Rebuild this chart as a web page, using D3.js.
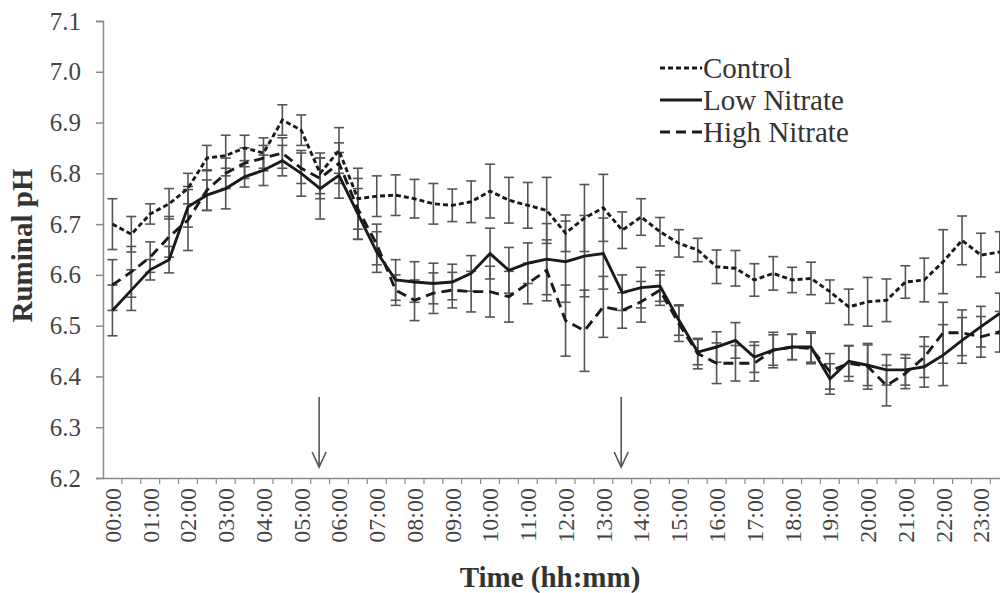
<!DOCTYPE html>
<html>
<head>
<meta charset="utf-8">
<script src="https://cdn.jsdelivr.net/npm/d3@7"></script>
<style>
  body { margin: 0; background: #fff; }
  svg { display: block; font-family: "Liberation Serif", "Times New Roman", serif; }
</style>
</head>
<body>
<div id="app"></div>
<script>
// half-hourly time points
const times = d3.range(48).map(i => `${String(Math.floor(i / 2)).padStart(2, '0')}:${i % 2 ? '30' : '00'}`);
const hourLabels = times.filter((d, i) => i % 2 === 0);
const yTicks = [6.2, 6.3, 6.4, 6.5, 6.6, 6.7, 6.8, 6.9, 7.0, 7.1];
const feedingTimes = ['05:30', '13:30'];

const control = [6.70, 6.68, 6.72, 6.74, 6.77, 6.83, 6.835, 6.85, 6.84, 6.905, 6.885, 6.80,
  6.845, 6.75, 6.755, 6.757, 6.75, 6.74, 6.737, 6.744, 6.765, 6.747, 6.737, 6.727,
  6.682, 6.712, 6.732, 6.688, 6.714, 6.685, 6.662, 6.649, 6.616, 6.613, 6.59, 6.603,
  6.59, 6.593, 6.567, 6.537, 6.547, 6.55, 6.586, 6.59, 6.626, 6.668, 6.639, 6.645];
const controlErr = [0.05, 0.035, 0.02, 0.03, 0.03, 0.025, 0.04, 0.025, 0.03, 0.03, 0.03, 0.04,
  0.045, 0.06, 0.04, 0.04, 0.038, 0.04, 0.032, 0.041, 0.053, 0.045, 0.045, 0.065,
  0.036, 0.066, 0.066, 0.036, 0.036, 0.028, 0.027, 0.023, 0.033, 0.035, 0.032, 0.033,
  0.025, 0.032, 0.023, 0.035, 0.048, 0.042, 0.032, 0.043, 0.063, 0.048, 0.043, 0.04];

const lowNitrate = [6.53, 6.57, 6.61, 6.63, 6.734, 6.757, 6.77, 6.793, 6.806, 6.825, 6.80, 6.77,
  6.796, 6.72, 6.645, 6.59, 6.586, 6.583, 6.586, 6.603, 6.642, 6.609, 6.623, 6.631,
  6.626, 6.637, 6.642, 6.565, 6.575, 6.578, 6.511, 6.448, 6.458, 6.471, 6.438, 6.452,
  6.458, 6.458, 6.395, 6.43, 6.422, 6.413, 6.413, 6.419, 6.442, 6.471, 6.498, 6.524];
const lowNitrateErr = [0.05, 0.04, 0.02, 0.026, 0.04, 0.03, 0.04, 0.02, 0.03, 0.03, 0.045, 0.06,
  0.045, 0.05, 0.04, 0.04, 0.04, 0.04, 0.035, 0.035, 0.05, 0.045, 0.04, 0.07,
  0.08, 0.08, 0.07, 0.035, 0.04, 0.03, 0.03, 0.025, 0.03, 0.035, 0.03, 0.03,
  0.025, 0.03, 0.03, 0.03, 0.04, 0.03, 0.03, 0.04, 0.06, 0.045, 0.04, 0.04];

const highNitrate = [6.58, 6.606, 6.635, 6.675, 6.708, 6.767, 6.80, 6.82, 6.83, 6.84, 6.81, 6.79,
  6.82, 6.73, 6.66, 6.57, 6.55, 6.564, 6.57, 6.567, 6.567, 6.557, 6.583, 6.609,
  6.51, 6.49, 6.537, 6.53, 6.547, 6.57, 6.504, 6.445, 6.426, 6.426, 6.426, 6.452,
  6.458, 6.455, 6.41, 6.426, 6.42, 6.382, 6.406, 6.438, 6.486, 6.486, 6.478, 6.488];
const highNitrateErr = [0.05, 0.05, 0.03, 0.04, 0.06, 0.04, 0.03, 0.03, 0.025, 0.03, 0.03, 0.04,
  0.04, 0.06, 0.04, 0.03, 0.04, 0.04, 0.035, 0.04, 0.05, 0.05, 0.04, 0.06,
  0.07, 0.08, 0.06, 0.035, 0.04, 0.03, 0.035, 0.03, 0.04, 0.035, 0.035, 0.035,
  0.025, 0.03, 0.035, 0.035, 0.045, 0.04, 0.03, 0.04, 0.06, 0.045, 0.04, 0.04];

const series = [
  { name: 'Control', values: control, err: controlErr, dash: '5,3' },
  { name: 'Low Nitrate', values: lowNitrate, err: lowNitrateErr, dash: null },
  { name: 'High Nitrate', values: highNitrate, err: highNitrateErr, dash: '10,6' },
];

const width = 1000;
const height = 593;
const plotLeft = 103;
const plotTop = 21;
const plotBottom = 478;
const step = 18.88;

const svg = d3.select('#app').append('svg')
  .attr('width', width)
  .attr('height', height);

const x = d3.scaleBand()
  .domain(times)
  .range([plotLeft, plotLeft + step * times.length])
  .padding(0);
const cx = d => x(d) + x.bandwidth() / 2;

const y = d3.scaleLinear()
  .domain([6.2, 7.1])
  .range([plotBottom, plotTop]);

// y axis
const yAxis = d3.axisLeft(y).tickValues(yTicks).tickFormat(d3.format('.1f')).tickSize(7).tickPadding(15);
svg.append('g')
  .attr('transform', `translate(${plotLeft}, 0)`)
  .call(yAxis)
  .call(g => g.selectAll('line, path').attr('stroke', '#8a8a8a').attr('stroke-width', 1.5))
  .call(g => g.selectAll('text').attr('fill', '#444').style('font-size', '25px').style('font-family', 'Liberation Serif'));

// x axis with labels every hour and ticks between categories
const xAxis = d3.axisBottom(x).tickValues(hourLabels).tickSize(0).tickPadding(0);
svg.append('g')
  .attr('transform', `translate(0, ${plotBottom})`)
  .call(xAxis)
  .call(g => g.select('.domain').attr('stroke', '#8a8a8a').attr('stroke-width', 1.5))
  .call(g => g.selectAll('text')
    .attr('transform', 'rotate(-90)')
    .attr('x', -10)
    .attr('y', 0)
    .attr('dy', '0.35em')
    .attr('text-anchor', 'end')
    .attr('fill', '#444')
    .style('font-size', '24px')
    .style('font-family', 'Liberation Serif'));

svg.append('g')
  .selectAll('line')
  .data(times)
  .join('line')
  .attr('x1', d => x(d) + x.bandwidth())
  .attr('x2', d => x(d) + x.bandwidth())
  .attr('y1', plotBottom)
  .attr('y2', plotBottom + 6)
  .attr('stroke', '#8a8a8a')
  .attr('stroke-width', 1.2);

// axis titles
svg.append('text')
  .attr('x', 550)
  .attr('y', 587)
  .attr('text-anchor', 'middle')
  .attr('font-weight', 'bold')
  .attr('fill', '#333')
  .style('font-size', '29px')
  .text('Time (hh:mm)');

svg.append('text')
  .attr('transform', `translate(32, ${(plotTop + plotBottom) / 2 - 4}) rotate(-90)`)
  .attr('text-anchor', 'middle')
  .attr('font-weight', 'bold')
  .attr('fill', '#333')
  .style('font-size', '29px')
  .text('Ruminal pH');

// error bars
const capW = 5;
series.forEach(s => {
  const g = svg.append('g').attr('stroke', '#555').attr('stroke-width', 1.6);
  const pts = times.map((t, i) => ({ t, v: s.values[i], e: s.err[i] }));
  g.selectAll('line.v').data(pts).join('line').attr('class', 'v')
    .attr('x1', d => cx(d.t)).attr('x2', d => cx(d.t))
    .attr('y1', d => y(d.v + d.e)).attr('y2', d => y(d.v - d.e));
  g.selectAll('line.hi').data(pts).join('line').attr('class', 'hi')
    .attr('x1', d => cx(d.t) - capW).attr('x2', d => cx(d.t) + capW)
    .attr('y1', d => y(d.v + d.e)).attr('y2', d => y(d.v + d.e));
  g.selectAll('line.lo').data(pts).join('line').attr('class', 'lo')
    .attr('x1', d => cx(d.t) - capW).attr('x2', d => cx(d.t) + capW)
    .attr('y1', d => y(d.v - d.e)).attr('y2', d => y(d.v - d.e));
});

// series lines
const line = d3.line()
  .x((d, i) => cx(times[i]))
  .y(d => y(d));

series.forEach(s => {
  svg.append('path')
    .datum(s.values)
    .attr('fill', 'none')
    .attr('stroke', '#1a1a1a')
    .attr('stroke-width', 2.9)
    .attr('stroke-dasharray', s.dash)
    .attr('d', line);
});

// feeding arrows
const arrowTop = 397;
const arrowBottom = 467;
feedingTimes.forEach(t => {
  const ax = cx(t) - 1;
  const g = svg.append('g').attr('stroke', '#555').attr('stroke-width', 1.6).attr('fill', 'none');
  g.append('line').attr('x1', ax).attr('x2', ax).attr('y1', arrowTop).attr('y2', arrowBottom);
  g.append('path').attr('d', `M${ax - 7},${arrowBottom - 15} L${ax},${arrowBottom} L${ax + 7},${arrowBottom - 15}`);
});

// legend
const legend = svg.append('g').attr('transform', 'translate(660, 68)');
series.forEach((s, i) => {
  const row = legend.append('g').attr('transform', `translate(0, ${i * 32})`);
  row.append('line')
    .attr('x1', 0).attr('x2', 42)
    .attr('stroke', '#1a1a1a')
    .attr('stroke-width', 2.9)
    .attr('stroke-dasharray', s.dash);
  row.append('text')
    .attr('x', 43)
    .attr('dy', '0.35em')
    .attr('fill', '#333')
    .style('font-size', '29px')
    .text(s.name);
});
</script>
</body>
</html>
